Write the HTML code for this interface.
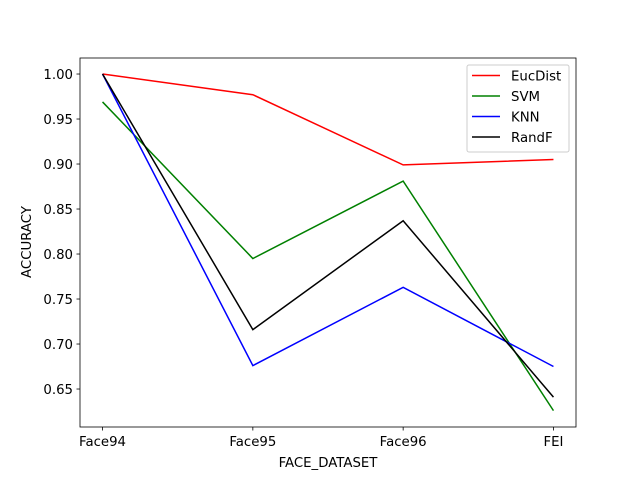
<!DOCTYPE html>
<html><head><meta charset="utf-8"><style>
body{margin:0;background:#fff;}
svg text{font-family:"DejaVu Sans","Liberation Sans",sans-serif;font-size:13.3px;fill:#000;}
</style></head><body>
<svg width="640" height="480" xmlns="http://www.w3.org/2000/svg">
<rect x="0" y="0" width="640" height="480" fill="#fff"/>
<g id="plot"></g>
<rect x="80" y="58" width="496" height="369" fill="none" stroke="#000" stroke-width="0.8"/>
<text x="328" y="467" text-anchor="middle">FACE_DATASET</text>
<text x="31" y="242" text-anchor="middle" transform="rotate(-90 31 242)">ACCURACY</text>
<g>
<rect x="467" y="65" width="102" height="87" rx="2" fill="#fff" stroke="#ccc" stroke-width="1"/>
<g id="legend-items"></g>
</g>
</svg>
<script>
const categories=["Face94","Face95","Face96","FEI"];
const seriesNames=["EucDist","SVM","KNN","RandF"];
const seriesColors=["#ff0000","#008000","#0000ff","#000000"];
const eucDist=[1.000,0.977,0.899,0.905];
const svm=[0.969,0.795,0.881,0.626];
const knn=[1.000,0.676,0.763,0.675];
const randF=[1.000,0.716,0.837,0.641];
const yTicks=[0.65,0.70,0.75,0.80,0.85,0.90,0.95,1.00];
const allSeries=[eucDist,svm,knn,randF];
const NS="http://www.w3.org/2000/svg";
const xS=i=>80+(i+0.15)/3.3*496;
const yMin=0.6078,yMax=1.0178;
const yS=v=>427-(v-yMin)/(yMax-yMin)*369;
const plot=document.getElementById('plot');
function mk(t,a){const e=document.createElementNS(NS,t);for(const k in a)e.setAttribute(k,a[k]);return e;}
yTicks.forEach(v=>{
 const y=yS(v);
 const l=mk('line',{x1:76.5,x2:80,y1:y,y2:y,stroke:'#000','stroke-width':0.8});
 
 
 plot.appendChild(l);
 const t=mk('text',{x:73,y:y+5,'text-anchor':'end'});t.textContent=v.toFixed(2);
 
 
 plot.appendChild(t);
});
categories.forEach((c,i)=>{
 const x=xS(i);
 const l=mk('line',{x1:x,x2:x,y1:427,y2:430.5,stroke:'#000','stroke-width':0.8});
 
 
 plot.appendChild(l);
 const t=mk('text',{x:x,y:446,'text-anchor':'middle'});t.textContent=c;
 
 
 plot.appendChild(t);
});
allSeries.forEach((s,k)=>{
 const p=mk('polyline',{points:s.map((v,i)=>xS(i)+','+yS(v)).join(' '),fill:'none',stroke:seriesColors[k],'stroke-width':1.5});
 
 
 plot.appendChild(p);
});
const leg=document.getElementById('legend-items');
seriesNames.forEach((n,k)=>{
 const y=75.5+k*20.5;
 const l=mk('line',{x1:472,x2:500,y1:y,y2:y,stroke:seriesColors[k],'stroke-width':1.5});
 
 
 leg.appendChild(l);
 const t=mk('text',{x:511,y:y+5});t.textContent=n;
 
 
 leg.appendChild(t);
});
</script>
</body></html>
